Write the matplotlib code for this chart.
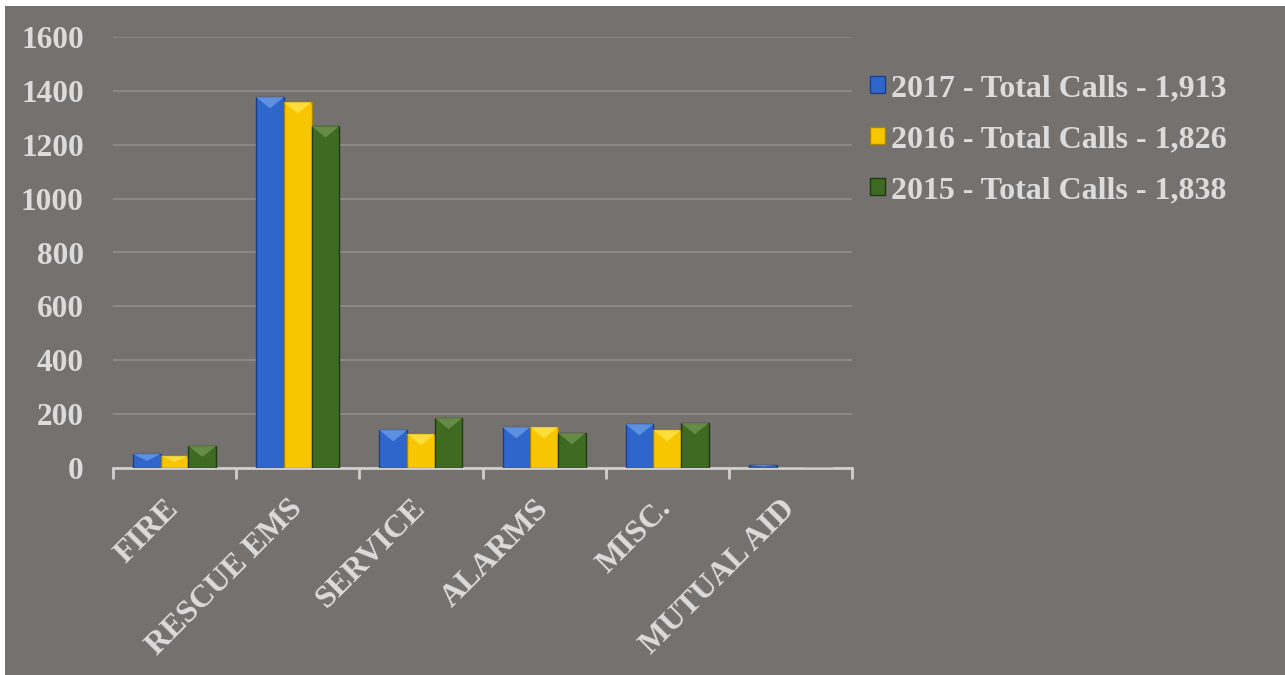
import numpy as np
import matplotlib.pyplot as plt
from matplotlib.patches import Rectangle, Polygon

categories = ["FIRE", "RESCUE EMS", "SERVICE", "ALARMS", "MISC.", "MUTUAL AID"]
series_names = ["2017 - Total Calls - 1,913", "2016 - Total Calls - 1,826", "2015 - Total Calls - 1,838"]
calls_2017 = [52, 1377, 141, 152, 163, 11]
calls_2016 = [45, 1358, 126, 152, 141, 0]
calls_2015 = [82, 1269, 186, 130, 167, 0]
yticks = [0, 200, 400, 600, 800, 1000, 1200, 1400, 1600]

colors = ["#2f66cc", "#f7c600", "#3f6a22"]
tops = ["#6a9be8", "#ffe34a", "#6f9450"]
edges = ["#1b3f85", "#a88400", "#1f3a10"]
bg = "#75716f"
txt = "#dcdcdc"
font = ["Liberation Serif", "DejaVu Serif"]

fig = plt.figure(figsize=(12.85, 6.75), dpi=100, facecolor="white")
fig.patches.append(Rectangle((5 / 1285, 0), 1 - 5 / 1285, 1 - 6 / 675,
                             transform=fig.transFigure, facecolor=bg, edgecolor="none", zorder=-10))

ax = fig.add_axes([113 / 1285, 1 - 468 / 675, (852 - 113) / 1285, (468 - 37) / 675])
ax.set_facecolor("none")

x = np.arange(len(categories))
w = 0.225
for i, vals in enumerate([calls_2017, calls_2016, calls_2015]):
    bars = ax.bar(x + (i - 1) * w, vals, w, color=colors[i], edgecolor=edges[i], linewidth=1,
                  label=series_names[i], zorder=3)
    # bevel highlight on top of each bar
    for b in bars:
        h = b.get_height()
        if h <= 0:
            continue
        d = min(42, h / 2)
        x0, bw = b.get_x(), b.get_width()
        ax.add_patch(Polygon([(x0, h), (x0 + bw, h), (x0 + bw / 2, h - d)], closed=True,
                             facecolor=tops[i], edgecolor="none", alpha=0.8, zorder=4))

ax.set_xlim(-0.5, len(categories) - 0.5)
ax.set_ylim(0, 1600)
ax.set_yticks(yticks)
ax.set_yticklabels([str(v) for v in yticks], fontsize=22.5, fontweight="bold", color=txt, family=font)
ax.tick_params(axis="y", length=0, pad=21)
ax.grid(axis="y", color="#8c8887", linewidth=1.5, zorder=0)
ax.set_axisbelow(True)

for s in ["top", "right", "left"]:
    ax.spines[s].set_visible(False)
ax.spines["bottom"].set_color("#d0d0d0")
ax.spines["bottom"].set_linewidth(2)

ax.set_xticks(np.arange(-0.5, len(categories), 1.0), minor=False)
ax.set_xticklabels([])
ax.tick_params(axis="x", length=8, width=2, color="#d0d0d0")
ax.set_xticks(x, minor=True)
ax.set_xticklabels(categories, minor=True, rotation=45, ha="right", va="center",
                   rotation_mode="anchor", fontsize=23, fontweight="bold", color=txt, family=font)
ax.tick_params(axis="x", which="minor", length=0, pad=26)

leg = fig.legend(*ax.get_legend_handles_labels(), loc="upper left",
                 bbox_to_anchor=(854 / 1285, 1 - 58 / 675), frameon=False, borderpad=0,
                 prop={"family": font, "size": 23, "weight": "bold"},
                 handlelength=0.47, handleheight=0.47, handletextpad=0.2, labelspacing=0.69)
for t in leg.get_texts():
    t.set_color(txt)

fig.savefig("out.png", dpi=100, facecolor="white")
